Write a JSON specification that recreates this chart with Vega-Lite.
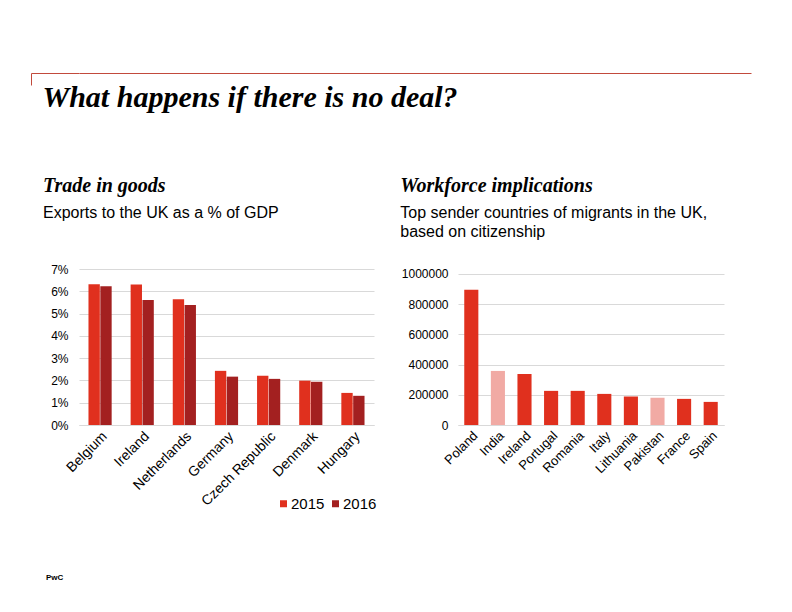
{
  "$schema": "https://vega.github.io/schema/vega-lite/v6.json",
  "padding": {"left": 30, "top": 70, "right": 10, "bottom": 5},
  "background": "white",
  "config": {
    "view": {"stroke": null},
    "font": "Liberation Sans",
    "axis": {"labelFont": "Liberation Sans", "labelColor": "#000000", "titleFont": "Liberation Sans"}
  },
  "spacing": 62,
  "vconcat": [
    {
      "width": 672,
      "height": 12,
      "data": {"values": [{"a": 0}, {"a": 1}]},
      "mark": {"type": "point", "opacity": 0},
      "encoding": {
        "x": {"field": "a", "type": "quantitative", "scale": {"domain": [0, 1], "nice": false}, "axis": {"orient": "top", "domainColor": "#c24a3c", "domainWidth": 1, "ticks": false, "labels": false, "grid": false, "title": null}},
        "y": {"field": "a", "type": "quantitative", "scale": {"domain": [0, 1], "nice": false}, "axis": {"orient": "left", "offset": 48, "values": [1], "domainColor": "#c24a3c", "domainWidth": 1, "ticks": true, "tickSize": -48, "tickColor": "#c24a3c", "tickWidth": 1, "labels": false, "grid": false, "title": null}}
      },
      "title": {"text": "What happens if there is no deal?", "orient": "bottom", "anchor": "start", "frame": "bounds", "font": "Liberation Serif", "fontStyle": "italic", "fontWeight": "bold", "fontSize": 30, "color": "#000000", "dx": 12, "offset": -5}
    },
    {
      "spacing": 23,
      "resolve": {"scale": {"color": "independent", "y": "independent", "x": "independent"}, "legend": {"color": "independent"}},
      "hconcat": [
        {
          "width": 295,
          "height": 156,
          "data": {"values": [
            {"country": "Belgium", "year": "2015", "pct": 6.32},
            {"country": "Belgium", "year": "2016", "pct": 6.23},
            {"country": "Ireland", "year": "2015", "pct": 6.31},
            {"country": "Ireland", "year": "2016", "pct": 5.61},
            {"country": "Netherlands", "year": "2015", "pct": 5.64},
            {"country": "Netherlands", "year": "2016", "pct": 5.38},
            {"country": "Germany", "year": "2015", "pct": 2.43},
            {"country": "Germany", "year": "2016", "pct": 2.17},
            {"country": "Czech Republic", "year": "2015", "pct": 2.21},
            {"country": "Czech Republic", "year": "2016", "pct": 2.07},
            {"country": "Denmark", "year": "2015", "pct": 1.99},
            {"country": "Denmark", "year": "2016", "pct": 1.94},
            {"country": "Hungary", "year": "2015", "pct": 1.44},
            {"country": "Hungary", "year": "2016", "pct": 1.31}
          ]},
          "title": {"text": "Trade in goods", "subtitle": "Exports to the UK as a % of GDP", "anchor": "start", "frame": "bounds", "font": "Liberation Serif", "fontStyle": "italic", "fontWeight": "bold", "fontSize": 20, "color": "#000000", "subtitleFont": "Liberation Sans", "subtitleFontSize": 16, "subtitleColor": "#000000", "subtitlePadding": 9, "dx": 12, "offset": 42},
          "mark": {"type": "bar"},
          "encoding": {
            "x": {"field": "country", "type": "nominal", "sort": null, "scale": {"paddingInner": 0.45, "paddingOuter": 0.225}, "axis": {"title": null, "labelAngle": -45, "labelFontSize": 14, "ticks": false, "domainColor": "#d9d9d9", "labelPadding": 4}},
            "xOffset": {"field": "year", "type": "nominal", "scale": {"paddingInner": 0.04}},
            "y": {"field": "pct", "type": "quantitative", "scale": {"domain": [0, 7], "nice": false}, "axis": {"title": null, "values": [0, 1, 2, 3, 4, 5, 6, 7], "labelExpr": "datum.value + '%'", "labelFontSize": 12, "ticks": false, "domain": false, "gridColor": "#d9d9d9", "labelPadding": 11, "minExtent": 48}},
            "color": {"field": "year", "type": "nominal", "scale": {"domain": ["2015", "2016"], "range": ["#e0301e", "#a32020"]}, "legend": {"title": null, "orient": "none", "direction": "horizontal", "legendX": 197, "legendY": 227, "symbolType": "square", "symbolSize": 49, "symbolStrokeWidth": 0, "labelFontSize": 15, "labelFont": "Liberation Sans", "labelColor": "#000000", "columnPadding": 3, "labelOffset": 0}}
          }
        },
        {
          "width": 266,
          "height": 156,
          "data": {"values": [
            {"country": "Poland", "migrants": 896000, "group": "a"},
            {"country": "India", "migrants": 358000, "group": "b"},
            {"country": "Ireland", "migrants": 338000, "group": "a"},
            {"country": "Portugal", "migrants": 226000, "group": "a"},
            {"country": "Romania", "migrants": 226000, "group": "a"},
            {"country": "Italy", "migrants": 206000, "group": "a"},
            {"country": "Lithuania", "migrants": 188000, "group": "a"},
            {"country": "Pakistan", "migrants": 181000, "group": "b"},
            {"country": "France", "migrants": 173000, "group": "a"},
            {"country": "Spain", "migrants": 153000, "group": "a"}
          ]},
          "title": {"text": "Workforce implications", "subtitle": ["Top sender countries of migrants in the UK,", "based on citizenship"], "anchor": "start", "frame": "bounds", "font": "Liberation Serif", "fontStyle": "italic", "fontWeight": "bold", "fontSize": 20, "color": "#000000", "subtitleFont": "Liberation Sans", "subtitleFontSize": 16, "subtitleColor": "#000000", "subtitlePadding": 9, "subtitleLineHeight": 19, "dx": -1, "offset": 28},
          "mark": {"type": "bar"},
          "encoding": {
            "x": {"field": "country", "type": "nominal", "sort": null, "scale": {"paddingInner": 0.47, "paddingOuter": 0.235}, "axis": {"title": null, "labelAngle": -45, "labelFontSize": 13, "ticks": false, "domainColor": "#d9d9d9", "labelPadding": 4}},
            "y": {"field": "migrants", "type": "quantitative", "scale": {"domain": [0, 1033000], "nice": false}, "axis": {"title": null, "values": [0, 200000, 400000, 600000, 800000, 1000000], "format": "d", "labelFontSize": 12, "ticks": false, "domain": false, "gridColor": "#d9d9d9", "labelPadding": 10}},
            "color": {"field": "group", "type": "nominal", "scale": {"domain": ["a", "b"], "range": ["#e0301e", "#f1aaa4"]}, "legend": null}
          }
        }
      ]
    },
    {
      "width": 100,
      "height": 10,
      "data": {"values": [{"t": "PwC"}]},
      "mark": {"type": "text", "align": "left", "baseline": "middle", "fontSize": 8, "fontWeight": "bold", "font": "Liberation Sans", "color": "#000000", "dx": -83, "dy": -1},
      "encoding": {"text": {"field": "t", "type": "nominal"}}
    }
  ]
}
